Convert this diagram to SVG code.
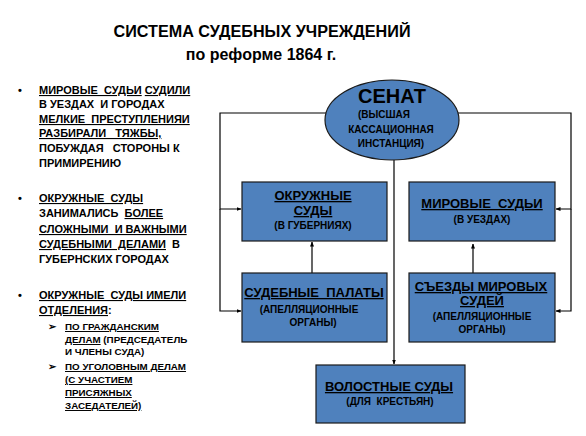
<svg xmlns="http://www.w3.org/2000/svg" width="586" height="436" viewBox="0 0 586 436">
<style>
text{font-family:"Liberation Sans",Arial,sans-serif;font-weight:bold;fill:#000;white-space:pre}
.u{text-decoration:underline}
.t{font-size:16px}
.l{font-size:11px}
.s{font-size:9.8px}
.bt{font-size:13px;text-anchor:middle}
.bs{font-size:10px;text-anchor:middle}
.box{fill:#4F81BD;stroke:#1a1a1a;stroke-width:1.2}
.ln{fill:none;stroke:#000;stroke-width:1.2}
</style>
<defs>
<marker id="ah" markerWidth="5" markerHeight="5" refX="4.5" refY="2.5" orient="auto" markerUnits="userSpaceOnUse">
<path d="M0,0.5 L5,2.5 L0,4.5 Z" fill="#000"/>
</marker>
</defs>
<rect width="586" height="436" fill="#fff"/>
<g id="title">
<text class="t" x="262" y="37" text-anchor="middle" textLength="297" lengthAdjust="spacingAndGlyphs">СИСТЕМА СУДЕБНЫХ УЧРЕЖДЕНИЙ</text>
<text class="t" x="261" y="60" text-anchor="middle">по реформе 1864 г.</text>
</g>
<g id="notes">
<text class="l" x="18" y="94">•</text>
<text class="l" x="39" y="94" xml:space="preserve"><tspan class="u">МИРОВЫЕ  СУДЬИ</tspan> <tspan class="u">СУДИЛИ</tspan></text>
<text class="l" x="39" y="108" xml:space="preserve">В УЕЗДАХ  И ГОРОДАХ</text>
<text class="l" x="39" y="123" xml:space="preserve"><tspan class="u">МЕЛКИЕ  ПРЕСТУПЛЕНИЯИ</tspan></text>
<text class="l" x="39" y="137" xml:space="preserve"><tspan class="u">РАЗБИРАЛИ   ТЯЖБЫ,</tspan></text>
<text class="l" x="39" y="152" xml:space="preserve">ПОБУЖДАЯ   СТОРОНЫ К</text>
<text class="l" x="39" y="167">ПРИМИРЕНИЮ</text>
<text class="l" x="18" y="202">•</text>
<text class="l" x="39" y="202" xml:space="preserve"><tspan class="u">ОКРУЖНЫЕ  СУДЫ</tspan></text>
<text class="l" x="39" y="217" xml:space="preserve">ЗАНИМАЛИСЬ  <tspan class="u">БОЛЕЕ</tspan></text>
<text class="l" x="39" y="233" xml:space="preserve"><tspan class="u">СЛОЖНЫМИ  И ВАЖНЫМИ</tspan></text>
<text class="l" x="39" y="248" xml:space="preserve"><tspan class="u">СУДЕБНЫМИ  ДЕЛАМИ</tspan>  В</text>
<text class="l" x="39" y="263">ГУБЕРНСКИХ ГОРОДАХ</text>
<text class="l" x="18" y="299">•</text>
<text class="l" x="39" y="299" xml:space="preserve"><tspan class="u">ОКРУЖНЫЕ  СУДЫ ИМЕЛИ</tspan></text>
<text class="l" x="39" y="314"><tspan class="u">ОТДЕЛЕНИЯ</tspan>:</text>
<text class="s" x="48" y="330">➢</text>
<text class="s" x="65" y="330"><tspan class="u">ПО ГРАЖДАНСКИМ</tspan></text>
<text class="s" x="65" y="343"><tspan class="u">ДЕЛАМ</tspan> (ПРЕДСЕДАТЕЛЬ</text>
<text class="s" x="65" y="355">И ЧЛЕНЫ СУДА)</text>
<text class="s" x="48" y="370">➢</text>
<text class="s" x="65" y="370"><tspan class="u">ПО УГОЛОВНЫМ ДЕЛАМ</tspan></text>
<text class="s" x="65" y="383"><tspan class="u">(С УЧАСТИЕМ</tspan></text>
<text class="s" x="65" y="396"><tspan class="u">ПРИСЯЖНЫХ</tspan></text>
<text class="s" x="65" y="409"><tspan class="u">ЗАСЕДАТЕЛЕЙ)</tspan></text>
</g>
<g id="connectors">
<path class="ln" d="M326,113 H220 V209 H241" marker-end="url(#ah)"/>
<path class="ln" d="M220,209 V311 H241" marker-end="url(#ah)"/>
<path class="ln" d="M458,113 H571 V209 H556" marker-end="url(#ah)"/>
<path class="ln" d="M571,209 V311 H556" marker-end="url(#ah)"/>
<path class="ln" d="M394,160 V364" marker-end="url(#ah)"/>
<path class="ln" d="M312,273 V242" marker-end="url(#ah)"/>
<path class="ln" d="M473,273 V244" marker-end="url(#ah)"/>
</g>
<g id="senat">
<ellipse cx="392" cy="120" rx="67" ry="40" class="box"/>
<text x="392" y="103" font-size="20" text-anchor="middle">СЕНАТ</text>
<text x="384" y="118" font-size="10" text-anchor="middle">(ВЫСШАЯ</text>
<text x="391" y="133" font-size="10" text-anchor="middle">КАССАЦИОННАЯ</text>
<text x="391" y="147" font-size="10" text-anchor="middle">ИНСТАНЦИЯ)</text>
</g>
<g id="okruzhnye">
<rect x="242" y="182" width="145" height="59" class="box"/>
<text class="bt" x="313" y="200"><tspan class="u">ОКРУЖНЫЕ</tspan></text>
<text class="bt" x="313" y="215"><tspan class="u">СУДЫ</tspan></text>
<text class="bs" x="313" y="229">(В ГУБЕРНИЯХ)</text>
</g>
<g id="mirovye">
<rect x="409" y="182" width="146" height="59" class="box"/>
<text class="bt" x="482" y="208" xml:space="preserve"><tspan class="u">МИРОВЫЕ  СУДЬИ</tspan></text>
<text class="bs" x="482" y="223">(В УЕЗДАХ)</text>
</g>
<g id="palaty">
<rect x="242" y="273" width="145" height="69" class="box"/>
<text class="bt" x="314" y="297" xml:space="preserve"><tspan class="u">СУДЕБНЫЕ  ПАЛАТЫ</tspan></text>
<text class="bs" x="309" y="313">(АПЕЛЛЯЦИОННЫЕ</text>
<text class="bs" x="313" y="326">ОРГАНЫ)</text>
</g>
<g id="sezdy">
<rect x="409" y="273" width="146" height="69" class="box"/>
<text class="bt" x="481" y="291"><tspan class="u">СЪЕЗДЫ МИРОВЫХ</tspan></text>
<text class="bt" x="482" y="305"><tspan class="u">СУДЕЙ</tspan></text>
<text class="bs" x="482" y="320">(АПЕЛЛЯЦИОННЫЕ</text>
<text class="bs" x="482" y="333">ОРГАНЫ)</text>
</g>
<g id="volostnye">
<rect x="316" y="365" width="149" height="58" class="box"/>
<text class="bt" x="389" y="391"><tspan class="u">ВОЛОСТНЫЕ СУДЫ</tspan></text>
<text class="bs" x="390" y="405" xml:space="preserve">(ДЛЯ  КРЕСТЬЯН)</text>
</g>
</svg>
